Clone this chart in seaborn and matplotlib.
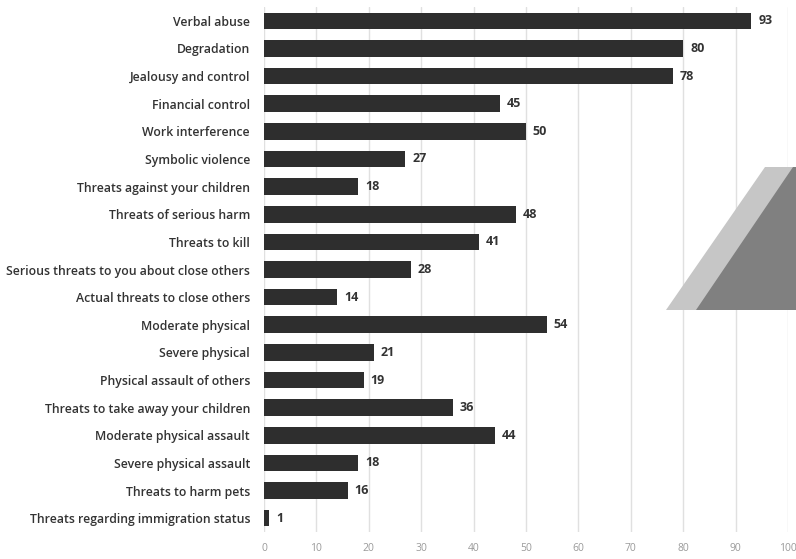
import matplotlib
matplotlib.use("Agg")
import matplotlib.pyplot as plt
import seaborn as sns
import pandas as pd
from matplotlib.patches import Polygon

categories = [
    "Verbal abuse", "Degradation", "Jealousy and control", "Financial control",
    "Work interference", "Symbolic violence", "Threats against your children",
    "Threats of serious harm", "Threats to kill",
    "Serious threats to you about close others", "Actual threats to close others",
    "Moderate physical", "Severe physical", "Physical assault of others",
    "Threats to take away your children", "Moderate physical assault",
    "Severe physical assault", "Threats to harm pets",
    "Threats regarding immigration status",
]
values = [93, 80, 78, 45, 50, 27, 18, 48, 41, 28, 14, 54, 21, 19, 36, 44, 18, 16, 1]
x_ticks = [0, 10, 20, 30, 40, 50, 60, 70, 80, 90, 100]

df = pd.DataFrame({"category": categories, "value": values})

sns.set_theme(style="white")
plt.rcParams["font.family"] = ["Open Sans", "DejaVu Sans"]

W, H = 796, 559
fig = plt.figure(figsize=(W / 100, H / 100), dpi=100)
ax = fig.add_axes([264 / W, 1 - 532 / H, (788 - 264) / W, (532 - 7) / H])

sns.barplot(data=df, x="value", y="category", color="#2e2e2e", saturation=1,
            width=0.6, ax=ax, orient="h", linewidth=0)

ax.set_xlim(0, 100)
ax.set_xticks(x_ticks)
ax.set_xticklabels([str(t) for t in x_ticks], fontsize=7.5, color="#9a9a9a")
ax.tick_params(axis="x", length=0, pad=8)
ax.tick_params(axis="y", length=0, pad=10)
for lab in ax.get_yticklabels():
    lab.set_fontsize(8.8)
    lab.set_fontweight("semibold")
    lab.set_color("#333333")
ax.set_xlabel("")
ax.set_ylabel("")
ax.grid(axis="x", color="#e0e0e0", linewidth=1)
ax.set_axisbelow(True)
for s in ax.spines.values():
    s.set_visible(False)

for i, v in enumerate(values):
    ax.text(v + 1.3, i, str(v), va="center", ha="left", fontsize=9,
            fontweight="bold", color="#333333")

# decorative overlay shape
def px(pts):
    return [(x / W, 1 - y / H) for x, y in pts]

fig.patches.append(Polygon(px([(666, 310), (765, 167), (796, 167), (796, 310)]),
                           closed=True, transform=fig.transFigure,
                           facecolor="#c6c6c6", edgecolor="none", zorder=5))
fig.patches.append(Polygon(px([(696, 310), (793, 167), (796, 167), (796, 310)]),
                           closed=True, transform=fig.transFigure,
                           facecolor="#808080", edgecolor="none", zorder=6))

fig.savefig("out.png", dpi=100)
